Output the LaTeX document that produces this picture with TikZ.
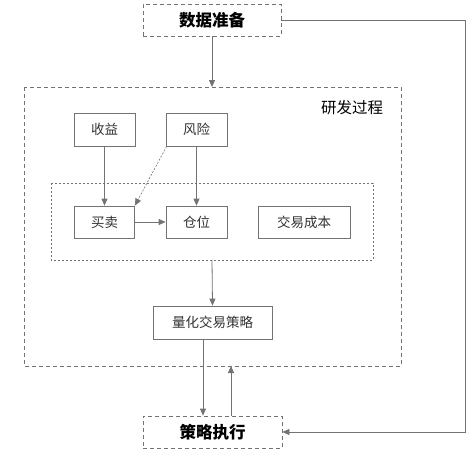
\documentclass[tikz,border=0pt]{standalone}
\usepackage{fontspec}
\setmainfont{Noto Sans CJK SC}
\usetikzlibrary{arrows.meta}
\definecolor{ln}{gray}{0.45}
\definecolor{tx}{gray}{0.2}
\tikzset{
  box/.style={draw=ln, line width=0.8pt, inner sep=0pt, text=tx, font=\fontsize{13.5}{13.5}\selectfont},
  dbox/.style={draw=ln, line width=0.8pt, dash pattern=on 4pt off 3pt, inner sep=0pt, text=black, font=\fontsize{16.5}{16.5}\selectfont\bfseries},
  arr/.style={draw=ln, line width=0.8pt, -{Triangle[length=7pt,width=6pt]}},
}
\begin{document}
\begin{tikzpicture}[x=1pt,y=-1pt]
\useasboundingbox (0,0) rectangle (474,456);
\fill[white] (0,0) rectangle (474,456);
% big research box
\draw[ln, line width=0.8pt, dash pattern=on 4pt off 3pt] (24,87) rectangle (401,366);
\node[text=black, font=\fontsize{15.5}{15.5}\selectfont, anchor=center] (lbl) at (352,108) {研发过程};
% inner dotted box
\draw[ln, line width=0.6pt, dash pattern=on 2pt off 2pt] (51,183) rectangle (373,260);
\coordinate (innertop) at (212,260);
% nodes
\node[dbox, minimum width=138pt, minimum height=32pt] (data) at (212,20) {数据准备};
\node[dbox, minimum width=139pt, minimum height=32pt] (exec) at (212.5,432) {策略执行};
\node[box, minimum width=61pt, minimum height=33pt] (sy) at (104.5,129.5) {收益};
\node[box, minimum width=61pt, minimum height=33pt] (fx) at (196.5,129.5) {风险};
\node[box, minimum width=60pt, minimum height=32pt] (mm) at (104.5,222) {买卖};
\node[box, minimum width=61pt, minimum height=32pt] (cw) at (196.5,222) {仓位};
\node[box, minimum width=92pt, minimum height=32pt] (cb) at (304,222) {交易成本};
\node[box, minimum width=119pt, minimum height=33pt] (cl) at (212.5,322.5) {量化交易策略};
\coordinate (bigtop) at (212,87);
\coordinate (bigbot) at (231,366);
% connectors
\draw[arr] (data.south) -- (bigtop);
\draw[arr] (sy.south) -- (mm.north);
\draw[arr] (fx.south) -- (cw.north);
\draw[draw=ln, line width=0.6pt, dash pattern=on 2pt off 1.5pt, -{Triangle[length=7pt,width=6pt]}] (fx.south west) ++(1,0) -- (mm.north east);
\draw[arr] (mm.east) -- (cw.west);
\draw[arr] (innertop) -- (cl.north);
\draw[arr] (cl.south -| 203,0) -- (exec.north -| 203,0);
\draw[arr] (exec.north -| bigbot) -- (bigbot);
\draw[arr] (data.east) -- (465,20) -- (465,432) -- (exec.east);
\end{tikzpicture}
\end{document}
